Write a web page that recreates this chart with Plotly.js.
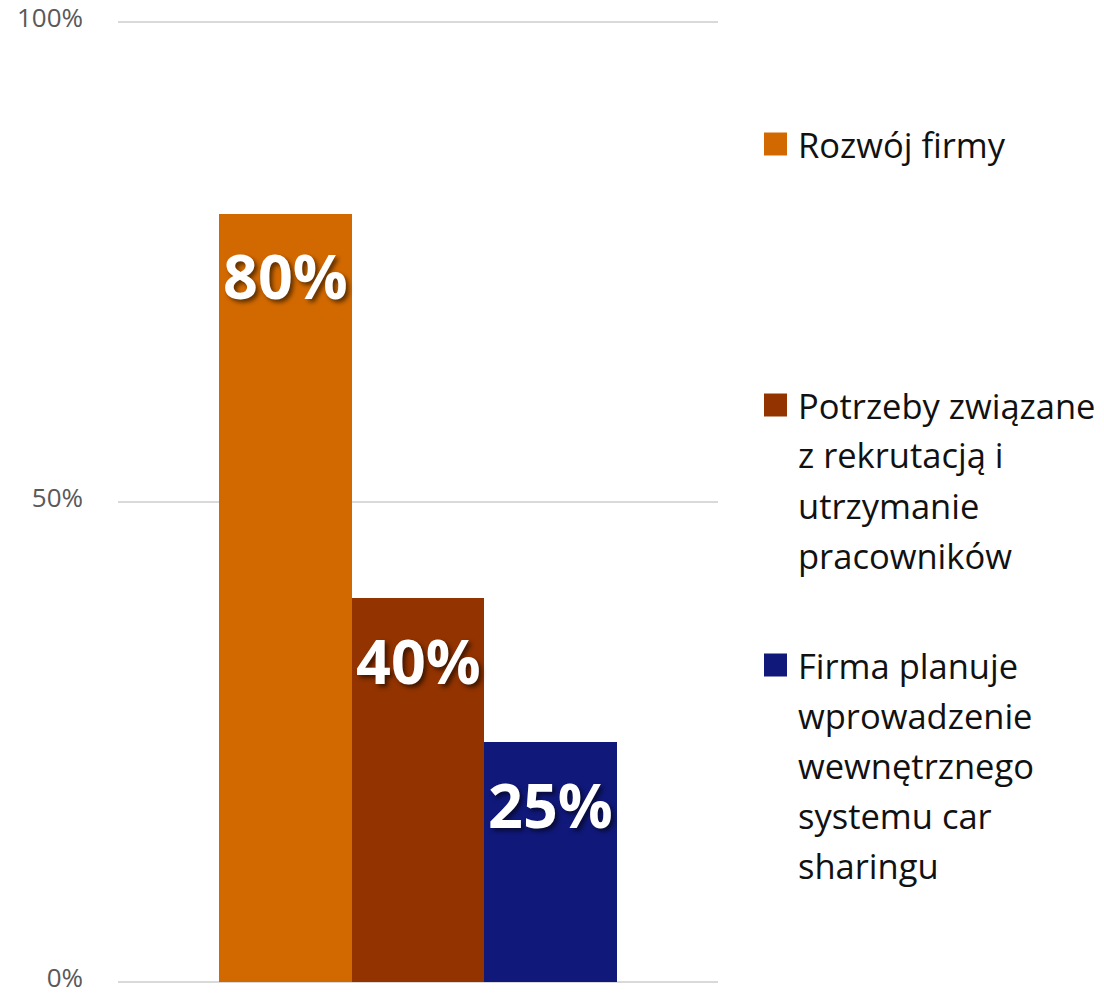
<!DOCTYPE html>
<html>
<head>
<meta charset="utf-8">
<script src="https://cdn.plot.ly/plotly-3.0.1.min.js"></script>
<style>html,body{margin:0;padding:0;background:#fff;}</style>
</head>
<body>
<div id="chart" style="width:1104px;height:996px;"></div>
<script>
// ---- data ----
const categories = [
  'Rozwój firmy',
  'Potrzeby związane z rekrutacją i utrzymanie pracowników',
  'Firma planuje wprowadzenie wewnętrznego systemu car sharingu'
];
const values = [80, 40, 25];
const valueLabels = ['80%', '40%', '25%'];
const legendLines = [
  ['Rozwój firmy'],
  ['Potrzeby związane', 'z rekrutacją i', 'utrzymanie', 'pracowników'],
  ['Firma planuje', 'wprowadzenie', 'wewnętrznego', 'systemu car', 'sharingu']
];
const yTickVals = [0, 50, 100];
const yTickText = ['0%', '50%', '100%'];

// ---- style ----
const colors = ['#D26900', '#923300', '#10187A'];
const W = 1104, H = 996;
const M = {l: 118, r: 386, t: 17, b: 9};
const plotW = W - M.l - M.r, plotH = H - M.t - M.b;
const font = '"Open Sans", "Noto Sans", sans-serif';

const trace = {
  type: 'bar',
  x: categories,
  y: values,
  width: 1,
  marker: {color: colors, line: {width: 0}},
  hoverinfo: 'skip',
  showlegend: false
};

const annotations = [];
categories.forEach((c, i) => {
  annotations.push({
    x: c, y: values[i], xref: 'x', yref: 'y',
    text: valueLabels[i], showarrow: false,
    xanchor: 'center', yanchor: 'middle', yshift: -62,
    font: {family: font, size: 61, color: '#ffffff', weight: 'bold',
           shadow: '3px 3px 4px rgba(0,0,0,0.55)'}
  });
});

// custom legend (pixel layout)
const legendFirstLineY = [144, 405, 665];
const lineStep = 50;
const shapes = [];
const px2x = p => (p - M.l) / plotW;
const px2y = p => (H - M.b - p) / plotH;
legendLines.forEach((lines, i) => {
  const yc = legendFirstLineY[i];
  shapes.push({
    type: 'rect', xref: 'paper', yref: 'paper',
    x0: px2x(764), x1: px2x(787), y0: px2y(yc + 11.5), y1: px2y(yc - 11.5),
    fillcolor: colors[i], line: {width: 0}
  });
  lines.forEach((ln, j) => {
    annotations.push({
      xref: 'paper', yref: 'paper',
      x: px2x(796), y: px2y(yc + j * lineStep),
      xanchor: 'left', yanchor: 'middle', showarrow: false,
      text: ln,
      font: {family: font, size: 34.5, color: '#111111'}
    });
  });
});

const layout = {
  width: W, height: H,
  margin: M,
  paper_bgcolor: '#ffffff', plot_bgcolor: '#ffffff',
  bargap: 0,
  showlegend: false,
  xaxis: {
    type: 'category', range: [-1.256, 3.256],
    showticklabels: false, showgrid: false, zeroline: false, showline: false,
    fixedrange: true
  },
  yaxis: {
    range: [-0.5, 100.5],
    tickvals: yTickVals, ticktext: yTickText,
    showgrid: true, gridcolor: '#d9d9d9', gridwidth: 2,
    zeroline: false, showline: false, ticks: '',
    ticklabelstandoff: 34,
    ticklabelshift: -4,
    ticklabeloverflow: 'allow',
    tickfont: {family: font, size: 26, color: '#595959'},
    fixedrange: true
  },
  annotations: annotations,
  shapes: shapes
};

Plotly.newPlot('chart', [trace], layout, {displayModeBar: false, staticPlot: true});
</script>
</body>
</html>
